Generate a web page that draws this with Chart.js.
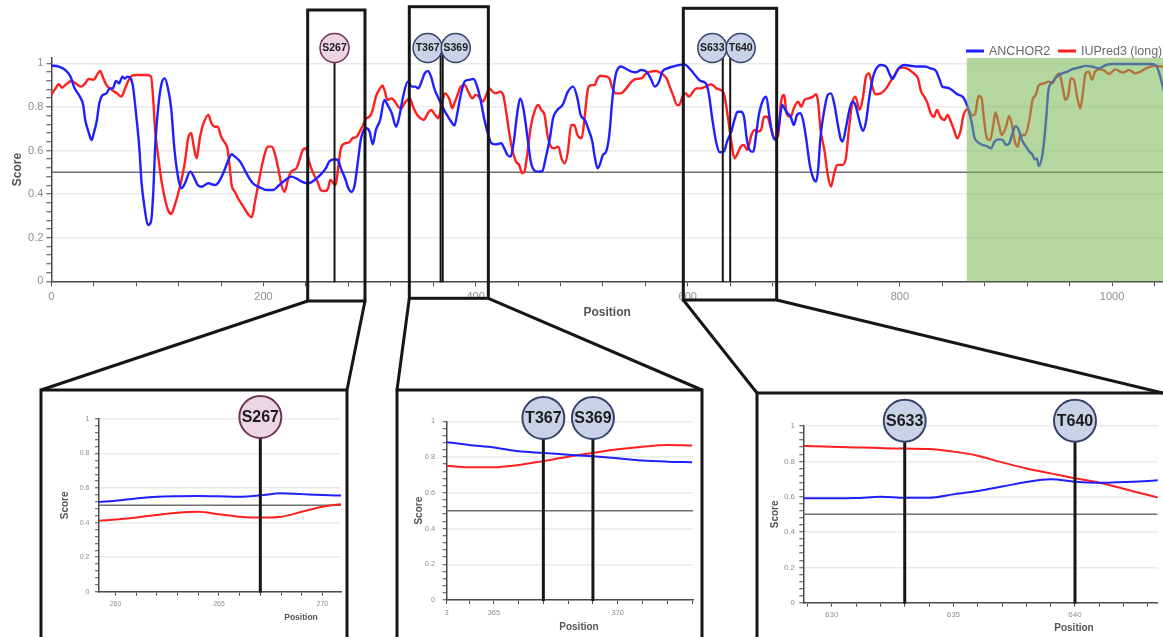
<!DOCTYPE html>
<html>
<head>
<meta charset="utf-8">
<title>ANCHOR2 / IUPred3 score profile</title>
<script src="https://cdn.jsdelivr.net/npm/chart.js@4.4.1/dist/chart.umd.min.js"></script>
<style>
  html, body { margin: 0; padding: 0; background: #fff; }
  #wrap { position: relative; width: 1163px; height: 637px; overflow: hidden; background: #fff; }
  #wrap canvas { position: absolute; left: 0; top: 0; }
</style>
</head>
<body>
<div id="wrap">
  <canvas id="overview" width="1163" height="637"></canvas>
  <canvas id="zoomA" width="1163" height="637"></canvas>
  <canvas id="zoomB" width="1163" height="637"></canvas>
  <canvas id="zoomC" width="1163" height="637"></canvas>
</div>
<script>
// ---------------- data ----------------
// Full-length profile (residue position -> score)
const anchorPos = [0,7,13,18,22,27,30,32,35,38,40,43,45,48,52,55,58,61,64,67,69,72,75,77,80,83,85,88,91,94,96,98,101,104,107,110,113,116,120,123,126,131,135,138,142,148,154,157,162,167,170,173,178,184,190,197,203,209,215,222,226,231,236,241,245,250,255,259,262,267,270,273,277,280,283,286,289,292,297,300,303,306,310,314,317,321,325,328,332,336,340,343,346,349,352,355,358,361,364,368,371,374,377,380,383,386,390,394,398,402,405,408,412,415,419,424,427,430,433,436,439,442,445,449,452,456,460,463,466,470,473,477,482,487,492,496,499,503,506,510,512,515,517,520,523,526,529,532,537,542,547,551,556,561,565,569,573,576,581,586,592,597,600,603,608,612,617,620,623,627,630,634,637,641,644,647,650,653,656,660,662,664,667,671,674,677,680,683,686,689,692,694,697,700,703,706,709,712,715,719,721,723,725,729,732,735,738,741,744,746,749,752,755,758,762,765,768,771,774,777,782,787,790,793,796,799,804,810,817,823,829,834,837,840,845,849,854,859,862,865,868,870,873,878,882,886,889,893,897,900,903,906,909,912,915,919,922,925,927,929,931,934,936,938,940,944,948,953,958,962,969,975,981,988,994,1000,1010,1022,1035,1041,1044,1047,1050];
const anchorScore = [0.99,0.985,0.97,0.94,0.885,0.847,0.81,0.74,0.687,0.648,0.679,0.74,0.81,0.852,0.862,0.885,0.885,0.919,0.908,0.939,0.93,0.939,0.93,0.893,0.763,0.61,0.457,0.335,0.258,0.274,0.396,0.625,0.809,0.908,0.931,0.885,0.794,0.61,0.465,0.427,0.45,0.503,0.472,0.442,0.434,0.45,0.442,0.45,0.495,0.557,0.583,0.572,0.549,0.495,0.45,0.43,0.419,0.419,0.442,0.469,0.48,0.472,0.457,0.45,0.454,0.472,0.495,0.52,0.55,0.56,0.557,0.518,0.472,0.427,0.411,0.442,0.549,0.656,0.702,0.687,0.628,0.694,0.74,0.832,0.809,0.771,0.709,0.755,0.855,0.916,0.893,0.893,0.885,0.916,0.954,0.965,0.939,0.885,0.85,0.81,0.78,0.755,0.732,0.714,0.778,0.855,0.919,0.924,0.928,0.885,0.824,0.748,0.671,0.633,0.628,0.633,0.61,0.58,0.572,0.641,0.763,0.839,0.794,0.656,0.549,0.506,0.503,0.506,0.564,0.656,0.748,0.786,0.809,0.87,0.893,0.839,0.763,0.74,0.702,0.641,0.58,0.518,0.534,0.58,0.595,0.671,0.839,0.946,0.985,0.974,0.962,0.959,0.969,0.962,0.931,0.893,0.916,0.962,0.977,0.985,0.992,0.995,0.985,0.969,0.939,0.919,0.908,0.855,0.748,0.633,0.592,0.595,0.641,0.687,0.74,0.778,0.778,0.755,0.641,0.595,0.595,0.656,0.763,0.832,0.847,0.755,0.671,0.648,0.717,0.809,0.786,0.771,0.755,0.717,0.763,0.771,0.732,0.641,0.534,0.465,0.457,0.518,0.656,0.794,0.855,0.862,0.817,0.732,0.656,0.641,0.702,0.778,0.824,0.809,0.732,0.69,0.732,0.839,0.924,0.969,0.992,0.985,0.954,0.928,0.954,0.977,0.992,0.989,0.985,0.985,0.977,0.965,0.931,0.893,0.888,0.878,0.858,0.847,0.824,0.78,0.72,0.663,0.64,0.625,0.62,0.61,0.64,0.651,0.648,0.625,0.632,0.678,0.712,0.694,0.648,0.617,0.595,0.58,0.56,0.564,0.529,0.572,0.648,0.755,0.877,0.916,0.939,0.954,0.962,0.972,0.981,0.988,0.985,0.977,0.992,0.997,0.997,0.997,0.997,0.992,0.962,0.908,0.85];

const iupredPos = [0,4,7,10,14,19,24,28,32,35,40,43,46,49,52,57,62,66,69,73,76,80,85,90,94,96,98,101,104,107,110,113,116,120,123,126,129,132,134,137,140,143,148,151,154,157,160,164,166,168,170,173,176,181,186,189,192,195,198,201,204,208,211,214,217,220,223,226,231,234,237,240,243,247,251,254,258,261,263,266,268,270,273,277,281,284,288,291,294,297,300,303,306,310,312,314,317,321,324,327,330,333,338,341,345,348,351,355,358,362,365,368,371,375,378,380,383,386,390,393,397,400,403,407,410,413,416,419,423,426,429,432,435,438,441,444,446,449,452,456,459,462,465,468,471,474,478,481,484,487,490,493,496,500,503,506,509,512,515,518,521,526,529,532,537,542,547,551,556,561,565,570,575,580,583,586,590,592,595,598,601,605,608,612,617,622,627,631,634,638,641,644,647,650,653,656,660,663,666,669,672,675,678,682,685,688,691,693,697,700,704,707,710,714,718,721,723,725,729,732,735,738,741,746,749,752,755,758,762,765,768,771,774,777,782,787,791,796,799,804,809,813,817,820,823,826,829,832,835,838,842,845,848,851,854,857,860,864,868,871,874,877,879,882,885,888,890,893,896,900,903,906,908,911,913,915,918,922,925,928,931,936,940,944,947,950,953,956,959,961,964,967,970,972,975,978,981,984,988,992,997,1003,1010,1016,1022,1027,1032,1036,1041,1047,1050];
const iupredScore = [0.855,0.885,0.904,0.888,0.904,0.919,0.904,0.893,0.908,0.928,0.924,0.946,0.965,0.931,0.9,0.878,0.862,0.847,0.878,0.924,0.943,0.946,0.946,0.946,0.939,0.839,0.687,0.564,0.457,0.381,0.327,0.309,0.343,0.411,0.472,0.549,0.656,0.679,0.625,0.564,0.656,0.717,0.763,0.725,0.709,0.709,0.664,0.633,0.61,0.534,0.442,0.411,0.381,0.343,0.304,0.294,0.365,0.442,0.518,0.58,0.618,0.618,0.58,0.518,0.442,0.411,0.465,0.503,0.518,0.557,0.602,0.61,0.549,0.495,0.457,0.419,0.414,0.427,0.465,0.45,0.442,0.503,0.61,0.633,0.638,0.656,0.664,0.69,0.717,0.748,0.755,0.786,0.847,0.885,0.898,0.878,0.832,0.839,0.824,0.801,0.794,0.817,0.839,0.801,0.763,0.748,0.74,0.771,0.786,0.763,0.748,0.809,0.862,0.839,0.794,0.817,0.855,0.893,0.9,0.87,0.839,0.855,0.847,0.824,0.855,0.885,0.87,0.862,0.87,0.855,0.771,0.671,0.595,0.549,0.534,0.495,0.503,0.595,0.709,0.786,0.809,0.786,0.763,0.664,0.618,0.61,0.618,0.564,0.541,0.595,0.717,0.717,0.671,0.656,0.763,0.885,0.9,0.9,0.931,0.943,0.941,0.931,0.885,0.862,0.862,0.885,0.916,0.928,0.931,0.954,0.962,0.965,0.954,0.931,0.893,0.855,0.809,0.809,0.847,0.862,0.847,0.87,0.885,0.885,0.893,0.904,0.885,0.878,0.862,0.748,0.641,0.564,0.587,0.618,0.625,0.602,0.671,0.694,0.687,0.694,0.755,0.755,0.709,0.656,0.664,0.824,0.855,0.771,0.755,0.794,0.824,0.801,0.832,0.839,0.847,0.858,0.817,0.702,0.595,0.488,0.434,0.495,0.534,0.534,0.564,0.702,0.817,0.847,0.786,0.839,0.939,0.954,0.893,0.858,0.862,0.885,0.916,0.954,0.977,0.98,0.969,0.954,0.931,0.87,0.847,0.817,0.771,0.755,0.786,0.755,0.74,0.763,0.732,0.694,0.656,0.687,0.763,0.79,0.76,0.77,0.85,0.839,0.755,0.656,0.648,0.717,0.774,0.725,0.671,0.709,0.758,0.709,0.648,0.617,0.663,0.671,0.671,0.74,0.832,0.855,0.9,0.908,0.916,0.908,0.939,0.954,0.9,0.832,0.862,0.931,0.924,0.847,0.794,0.847,0.954,0.962,0.924,0.962,0.972,0.969,0.951,0.972,0.957,0.969,0.954,0.962,0.977,0.985,0.988,0.985,0.98];

const threshold = 0.5;
const bindingRegionStart = 863;

// Phosphosites
const sites = ['S267', 'T367', 'S369', 'S633', 'T640'];
const sitePos = [267, 367, 369, 633, 640];

// Detail windows
const windowFrom = [241.7, 337.5, 595.8];
const windowTo = [295.7, 412.0, 683.8];

// Detail A: residues 259-271
const zoomAPos = [259,260,261,262,263,264,265,266,267,268,269,270,271];
const zoomAAnchor = [0.518,0.527,0.54,0.55,0.553,0.554,0.552,0.55,0.558,0.57,0.565,0.56,0.556];
const zoomAIupred = [0.41,0.418,0.43,0.444,0.457,0.463,0.448,0.434,0.429,0.434,0.463,0.492,0.508];

// Detail B: residues 363-373
const zoomBPos = [363,364,365,366,367,368,369,370,371,372,373];
const zoomBAnchor = [0.886,0.868,0.854,0.832,0.823,0.813,0.804,0.793,0.78,0.774,0.771];
const zoomBIupred = [0.752,0.743,0.743,0.756,0.778,0.802,0.823,0.843,0.858,0.868,0.864];

// Detail C: residues 628-644
const zoomCPos = [628,629,630,631,632,633,634,635,636,637,638,639,640,641,642,643,644];
const zoomCAnchor = [0.59,0.591,0.591,0.592,0.6,0.594,0.594,0.613,0.632,0.657,0.683,0.698,0.685,0.679,0.683,0.689,0.7];
const zoomCIupred = [0.888,0.887,0.883,0.879,0.875,0.872,0.87,0.855,0.832,0.794,0.76,0.732,0.704,0.679,0.645,0.609,0.575];

// Tick values
const scoreTicks = [0, 0.2, 0.4, 0.6, 0.8, 1];
const overviewPosTicks = [0, 200, 400, 600, 800, 1000];

// ---------------- styling ----------------
const W = 1163, H = 637;
const FONT = '"Liberation Sans", Arial, Helvetica, sans-serif';
Chart.defaults.font.family = FONT;

const BLUE = '#1f1fff';
const RED = '#ff1f1f';
const INK = '#161616';
const siteFill = ['#ecd6e2', '#cad2e7', '#cad2e7', '#cad2e7', '#cad2e7'];
const siteStroke = ['#6e3458', '#37426a', '#37426a', '#37426a', '#37426a'];
const overviewBadgeShift = [0, -13, 13, -10.5, 10.5];

function pairs(xs, ys) { return xs.map((x, i) => ({ x: x, y: ys[i] })); }
function isScoreLabel(v) { return scoreTicks.some(t => Math.abs(t - v) < 1e-6); }
function scoreLabel(v) {
  if (!isScoreLabel(v)) return '';
  if (Math.abs(v) < 1e-6) return '0';
  if (Math.abs(v - 1) < 1e-6) return '1';
  return v.toFixed(1);
}
const minorScore = Array.from({ length: 26 }, (_, i) => Math.round(i * 4) / 100);

function badge(ctx, x, y, r, text, fill, stroke, fontPx, lw) {
  ctx.save();
  ctx.beginPath();
  ctx.arc(x, y, r, 0, Math.PI * 2);
  ctx.fillStyle = fill;
  ctx.fill();
  ctx.lineWidth = lw;
  ctx.strokeStyle = stroke;
  ctx.stroke();
  ctx.fillStyle = '#1b1b1b';
  ctx.font = 'bold ' + fontPx + 'px ' + FONT;
  ctx.textAlign = 'center';
  ctx.textBaseline = 'middle';
  ctx.fillText(text, x, y + 0.5);
  ctx.restore();
}

function datasetsFor(g) {
  return [
    { label: 'ANCHOR2', data: pairs(g.anchorPos, g.anchor), borderColor: BLUE, borderWidth: g.lineWidth,
      pointRadius: 0, cubicInterpolationMode: 'monotone', fill: false },
    { label: 'IUPred3 (long)', data: pairs(g.iupredPos, g.iupred), borderColor: RED, borderWidth: g.lineWidth,
      pointRadius: 0, cubicInterpolationMode: 'monotone', fill: false },
    { label: 'threshold', data: [{ x: g.xMin, y: threshold }, { x: g.xMax, y: threshold }],
      borderColor: '#707070', borderWidth: 1.5, pointRadius: 0, fill: false }
  ];
}

// g: plot geometry and text sizes for one panel
function scoreChart(canvasId, g, plugins) {
  return new Chart(document.getElementById(canvasId), {
    type: 'line',
    data: { datasets: datasetsFor(g) },
    options: {
      responsive: false,
      animation: false,
      events: [],
      layout: { padding: { left: 0, top: g.top, right: W - g.right, bottom: H - g.axisBottom } },
      plugins: { legend: { display: false }, tooltip: { enabled: false }, title: { display: false } },
      scales: {
        x: {
          type: 'linear',
          min: g.xMin,
          max: g.xMax,
          afterFit: s => { s.height = g.axisBottom - g.bottom; },
          afterBuildTicks: s => { s.ticks = g.xTicks.map(v => ({ value: v })); },
          ticks: {
            autoSkip: false, maxRotation: 0, minRotation: 0,
            padding: g.xPad, color: '#8e8e8e', font: { size: g.tickFont },
            callback: v => g.xLabel(v)
          },
          grid: { drawOnChartArea: false, drawTicks: true, tickLength: g.tickLen, tickColor: '#4a4a4a', tickWidth: 1 },
          border: { color: '#4a4a4a', width: 1.5 },
          title: g.xTitle ? { display: true, text: 'Position', color: '#555', font: { size: 12, weight: 'bold' }, padding: { top: 4, bottom: 4 } } : { display: false }
        },
        y: {
          type: 'linear',
          min: 0,
          max: g.yMax,
          afterFit: s => { s.width = g.left; },
          afterBuildTicks: s => { s.ticks = minorScore.map(v => ({ value: v })); },
          ticks: {
            autoSkip: false, padding: g.yPad, color: '#8e8e8e', font: { size: g.tickFont },
            callback: v => scoreLabel(v)
          },
          grid: {
            drawTicks: true, tickLength: g.tickLen, tickColor: '#4a4a4a', tickWidth: 1,
            color: c => (c.tick && isScoreLabel(c.tick.value)) ? '#eaeaea' : 'rgba(0,0,0,0)',
            lineWidth: 1.5
          },
          border: { color: '#4a4a4a', width: 1.5 },
          title: { display: true, text: 'Score', color: '#555', font: { size: g.scoreFont, weight: 'bold' },
                   padding: { top: g.scorePad, bottom: 0 } }
        }
      }
    },
    plugins: plugins
  });
}

// ---------------- overview ----------------
const frames = [
  { left: 41, top: 390, right: 347 },
  { left: 397, top: 390, right: 702 },
  { left: 757, top: 393, right: 1167 }
];
const windowTop = [10, 6.7, 8.3];
const windowBottom = [301, 298.3, 300];

const overviewDecor = {
  id: 'overviewDecor',
  afterDatasetsDraw(chart) {
    const { ctx, chartArea: a, scales: { x } } = chart;
    const x0 = x.getPixelForValue(bindingRegionStart);
    ctx.save();
    ctx.fillStyle = 'rgba(122,181,84,0.56)';
    ctx.fillRect(x0, a.top, a.right - x0, a.bottom - a.top);
    ctx.restore();
  },
  afterDraw(chart) {
    const { ctx, chartArea: a, scales: { x } } = chart;
    ctx.save();

    // legend
    ctx.lineWidth = 3;
    ctx.strokeStyle = BLUE;
    ctx.beginPath(); ctx.moveTo(966, 51); ctx.lineTo(984, 51); ctx.stroke();
    ctx.strokeStyle = RED;
    ctx.beginPath(); ctx.moveTo(1058, 51); ctx.lineTo(1076, 51); ctx.stroke();
    ctx.fillStyle = '#6a6a6a';
    ctx.font = '12.5px ' + FONT;
    ctx.textAlign = 'left';
    ctx.textBaseline = 'middle';
    ctx.fillText('ANCHOR2', 989, 51.5);
    ctx.fillText('IUPred3 (long)', 1081, 51.5);

    // site stems
    const badgeY = 48;
    sites.forEach((s, i) => {
      const px = x.getPixelForValue(sitePos[i]);
      ctx.strokeStyle = INK;
      ctx.lineWidth = 2;
      ctx.beginPath(); ctx.moveTo(px, badgeY); ctx.lineTo(px, a.bottom + 1); ctx.stroke();
    });
    sites.forEach((s, i) => {
      const px = x.getPixelForValue(sitePos[i]) + overviewBadgeShift[i];
      badge(ctx, px, badgeY, 14.5, s, siteFill[i], siteStroke[i], 10.5, 1.5);
    });

    // detail windows, their frames and connectors
    ctx.strokeStyle = INK;
    ctx.lineWidth = 3;
    ctx.lineJoin = 'miter';
    windowFrom.forEach((from, i) => {
      const l = x.getPixelForValue(from);
      const r = x.getPixelForValue(windowTo[i]);
      const t = windowTop[i], b = windowBottom[i];
      ctx.strokeRect(l, t, r - l, b - t);
      const f = frames[i];
      ctx.strokeRect(f.left, f.top, f.right - f.left, H + 10 - f.top);
      ctx.beginPath();
      ctx.moveTo(l, b); ctx.lineTo(f.left, f.top);
      ctx.moveTo(r, b); ctx.lineTo(Math.min(f.right, W), f.top);
      ctx.stroke();
    });
    ctx.restore();
  }
};

scoreChart('overview', {
  anchorPos: anchorPos, anchor: anchorScore, iupredPos: iupredPos, iupred: iupredScore,
  xMin: 0, xMax: 1048, yMax: 1.025,
  left: 51.3, right: 1163, top: 57.85, bottom: 281.3, axisBottom: 324.2,
  xTicks: Array.from({ length: 27 }, (_, i) => i * 40),
  xLabel: v => overviewPosTicks.includes(v) ? String(v) : '',
  tickFont: 11, tickLen: 5, xPad: 4, yPad: 3,
  scoreFont: 12, scorePad: 10, xTitle: true, lineWidth: 2.4
}, [overviewDecor]);

// ---------------- detail panels ----------------
function detailDecor(siteIdx, badgeY, titleX, titleY, titleFont) {
  return {
    id: 'detailDecor',
    afterDraw(chart) {
      const { ctx, chartArea: a, scales: { x } } = chart;
      ctx.save();
      siteIdx.forEach(i => {
        const px = x.getPixelForValue(sitePos[i]);
        ctx.strokeStyle = INK;
        ctx.lineWidth = 3;
        ctx.beginPath(); ctx.moveTo(px, badgeY); ctx.lineTo(px, a.bottom + 1); ctx.stroke();
        badge(ctx, px, badgeY, 21, sites[i], siteFill[i], siteStroke[i], 16, 2);
      });
      ctx.fillStyle = '#555';
      ctx.font = 'bold ' + titleFont + 'px ' + FONT;
      ctx.textAlign = 'center';
      ctx.textBaseline = 'middle';
      ctx.fillText('Position', titleX, titleY);
      ctx.restore();
    }
  };
}

const everyFifth = v => (Math.abs(v % 5) < 1e-6 ? String(v) : '');

scoreChart('zoomA', {
  anchorPos: zoomAPos, anchor: zoomAAnchor, iupredPos: zoomAPos, iupred: zoomAIupred,
  xMin: 259.2, xMax: 270.9, yMax: 1,
  left: 99, right: 341, top: 419, bottom: 591.7, axisBottom: 637,
  xTicks: [260,261,262,263,264,265,266,267,268,269,270],
  xLabel: everyFifth,
  tickFont: 7, tickLen: 4, xPad: 4, yPad: 5.5,
  scoreFont: 10, scorePad: 59, xTitle: false, lineWidth: 2
}, [detailDecor([0], 417, 301, 618, 8.5)]);

scoreChart('zoomB', {
  anchorPos: zoomBPos, anchor: zoomBAnchor, iupredPos: zoomBPos, iupred: zoomBIupred,
  xMin: 363.1, xMax: 373.05, yMax: 1,
  left: 446.7, right: 693.3, top: 421.3, bottom: 600, axisBottom: 637,
  xTicks: [363.1,364,365,366,367,368,369,370,371,372,373],
  xLabel: v => (Math.abs(v - 363.1) < 1e-6 ? '3' : everyFifth(v)),
  tickFont: 7.5, tickLen: 4, xPad: 4.5, yPad: 7.5,
  scoreFont: 10, scorePad: 413, xTitle: false, lineWidth: 2
}, [detailDecor([1, 2], 418, 579, 627, 10)]);

scoreChart('zoomC', {
  anchorPos: zoomCPos, anchor: zoomCAnchor, iupredPos: zoomCPos, iupred: zoomCIupred,
  xMin: 628.83, xMax: 643.4, yMax: 1,
  left: 803.3, right: 1157.7, top: 426, bottom: 602.7, axisBottom: 637,
  xTicks: [629,630,631,632,633,634,635,636,637,638,639,640,641,642,643],
  xLabel: everyFifth,
  tickFont: 8, tickLen: 4, xPad: 3.5, yPad: 4.3,
  scoreFont: 10, scorePad: 769, xTitle: false, lineWidth: 2
}, [detailDecor([3, 4], 420.7, 1074, 628, 10)]);
</script>
</body>
</html>
